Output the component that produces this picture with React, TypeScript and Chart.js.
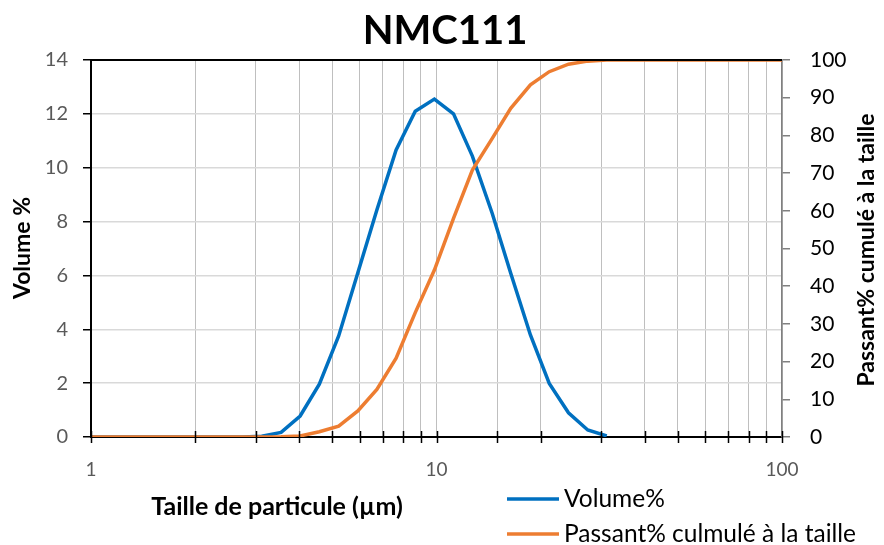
import React, { useEffect, useRef } from 'react';
import { Chart, registerables } from 'chart.js';

Chart.register(...registerables);

const chartTitle = 'NMC111';
const xTitle = 'Taille de particule (µm)';
const yLeftTitle = 'Volume %';
const yRightTitle = 'Passant% cumulé à la taille';
const seriesNames = ['Volume%', 'Passant% culmulé à la taille'];
const seriesColors = ['#0070C0', '#ED7D31'];

// particle size bins (µm)
const sizes = [
  1.0, 1.13, 1.29, 1.46, 1.66, 1.88, 2.14, 2.42, 2.75, 3.12, 3.55, 4.03, 4.58, 5.21, 5.92, 6.72,
  7.64, 8.68, 9.86, 11.2, 12.7, 14.5, 16.4, 18.7, 21.2, 24.1, 27.4, 31.1, 35.3, 40.1, 45.6, 51.8,
  58.9, 66.9, 76.0, 86.4, 98.1, 111,
];
// Volume % per bin (left axis)
const volume = [
  0, 0, 0, 0, 0, 0, 0, 0, 0, 0.03, 0.17, 0.78, 1.96, 3.75, 6.1, 8.43,
  10.66, 12.1, 12.55, 12.0, 10.43, 8.3, 6.08, 3.79, 1.99, 0.9, 0.26, 0.04, null, null, null, null,
  null, null, null, null, null, null,
];
// cumulative passing % (right axis)
const passant = [
  0, 0, 0, 0, 0, 0, 0, 0, 0, 0, 0.05, 0.27, 1.4, 2.9, 6.9, 12.6,
  20.9, 33.0, 44.3, 58.0, 70.8, 79.2, 87.2, 93.4, 96.9, 98.9, 99.7, 100, 100, 100, 100, 100,
  100, 100, 100, 100, 100, 100,
];
const xMajorLabels = [1, 10, 100];

const FONT = 'Lato, "Open Sans", sans-serif';

const overlay = {
  id: 'overlay',
  afterDraw(chart: any) {
    const { ctx, chartArea } = chart;
    const xs = chart.scales.x;
    ctx.save();
    // top border
    ctx.strokeStyle = '#000';
    ctx.lineWidth = 2;
    ctx.beginPath();
    ctx.moveTo(chartArea.left, chartArea.top);
    ctx.lineTo(chartArea.right, chartArea.top);
    ctx.stroke();
    // crossing ticks on x axis
    ctx.lineWidth = 1.5;
    xs.ticks.forEach((t: any) => {
      const px = Math.round(xs.getPixelForValue(t.value)) + 0.5;
      ctx.beginPath();
      ctx.moveTo(px, chartArea.bottom - 6);
      ctx.lineTo(px, chartArea.bottom + 6);
      ctx.stroke();
    });
    // title
    ctx.fillStyle = '#000';
    ctx.textAlign = 'center';
    ctx.textBaseline = 'middle';
    ctx.font = `bold 40px ${FONT}`;
    ctx.fillText(chartTitle, 445, 31);
    // x title
    ctx.font = `bold 25px ${FONT}`;
    ctx.fillText(xTitle, 277, 507);
    // left y title
    ctx.font = `bold 23px ${FONT}`;
    ctx.save();
    ctx.translate(23, 248);
    ctx.rotate(-Math.PI / 2);
    ctx.fillText(yLeftTitle, 0, 0);
    ctx.restore();
    // right y title
    ctx.save();
    ctx.translate(867, 250);
    ctx.rotate(-Math.PI / 2);
    ctx.fillText(yRightTitle, 0, 0);
    ctx.restore();
    // legend
    ctx.font = `24.5px ${FONT}`;
    ctx.textAlign = 'left';
    chart.data.datasets.forEach((ds: any, i: number) => {
      const y = 499 + i * 35;
      ctx.strokeStyle = ds.borderColor;
      ctx.lineWidth = 3.5;
      ctx.beginPath();
      ctx.moveTo(507, y);
      ctx.lineTo(559, y);
      ctx.stroke();
      ctx.fillStyle = '#000';
      ctx.fillText(ds.label, 564, y);
    });
    ctx.restore();
  },
};

export default function App() {
  const ref = useRef<HTMLCanvasElement>(null);
  useEffect(() => {
    if (!ref.current) return;
    const chart = new Chart(ref.current, {
      type: 'line',
      data: {
        datasets: [
          {
            label: seriesNames[0],
            data: sizes.map((s, i) => ({ x: s, y: volume[i] })),
            borderColor: seriesColors[0],
            backgroundColor: seriesColors[0],
            borderWidth: 3.5,
            pointRadius: 0,
            tension: 0,
            spanGaps: false,
            yAxisID: 'y',
            order: 1,
          },
          {
            label: seriesNames[1],
            data: sizes.map((s, i) => ({ x: s, y: passant[i] })),
            borderColor: seriesColors[1],
            backgroundColor: seriesColors[1],
            borderWidth: 3.5,
            pointRadius: 0,
            tension: 0,
            yAxisID: 'y1',
            order: 0,
          },
        ],
      },
      options: {
        animation: false,
        responsive: false,
        maintainAspectRatio: false,
        layout: { padding: { top: 60, left: 0, right: 0, bottom: 0 } },
        plugins: { legend: { display: false }, title: { display: false }, tooltip: { enabled: false } },
        scales: {
          x: {
            type: 'logarithmic',
            position: 'bottom',
            min: 1,
            max: 100,
            afterFit: (s: any) => { s.height = 108; },
            grid: { color: '#bfbfbf', lineWidth: 1, drawTicks: false },
            border: { display: true, color: '#000', width: 2 },
            ticks: {
              autoSkip: false,
              maxRotation: 0,
              padding: 21,
              color: '#595959',
              font: { family: FONT, size: 19 },
              callback: (v: any) => (xMajorLabels.includes(Number(v)) ? String(v) : ''),
            },
          },
          y: {
            position: 'left',
            min: 0,
            max: 14,
            afterFit: (s: any) => { s.width = 91; },
            grid: { color: '#d9d9d9', lineWidth: 1.5, tickColor: '#000', tickLength: 8 },
            border: { display: true, color: '#000', width: 2 },
            ticks: { stepSize: 2, padding: 15, color: '#595959', font: { family: FONT, size: 20 } },
          },
          y1: {
            position: 'right',
            min: 0,
            max: 100,
            afterFit: (s: any) => { s.width = 102; },
            grid: { drawOnChartArea: false, tickColor: '#808080', tickLength: 8, lineWidth: 1.5 },
            border: { display: true, color: '#808080', width: 1.5 },
            ticks: { stepSize: 10, padding: 20, color: '#000', font: { family: FONT, size: 21 } },
          },
        },
      },
      plugins: [overlay],
    });
    return () => chart.destroy();
  }, []);
  return (
    <div style={{ position: 'fixed', left: 0, top: 0, width: 884, height: 545, background: '#fff' }}>
      <canvas ref={ref} width={884} height={545} style={{ display: 'block' }} />
    </div>
  );
}
